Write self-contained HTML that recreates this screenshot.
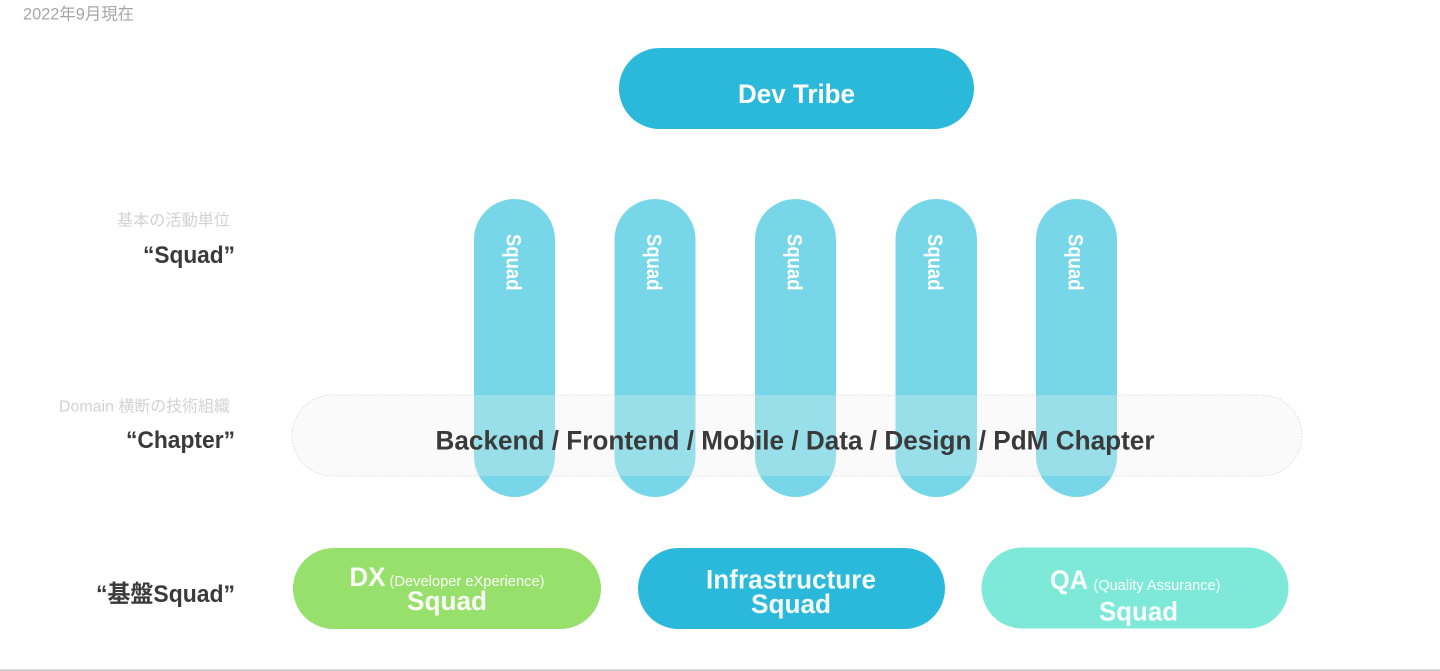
<!DOCTYPE html>
<html lang="ja">
<head>
<meta charset="utf-8">
<title>Dev Tribe</title>
<style>
html,body{margin:0;padding:0;background:#fff;width:1440px;height:671px;overflow:hidden}
svg{display:block;position:absolute;left:0;top:0}
text{font-family:"Liberation Sans","Noto Sans CJK JP",sans-serif}
.b{font-weight:700}
</style>
</head>
<body>
<svg width="1440" height="671" viewBox="0 0 1440 671" xmlns="http://www.w3.org/2000/svg">
<rect width="1440" height="671" fill="#fff"/>
<rect x="0" y="669.500" width="1440" height="1.500" fill="#c4c4c4"/>

<text x="23" y="19.500" font-size="16.500" fill="#a6a6a6" textLength="111" lengthAdjust="spacingAndGlyphs">2022年9月現在</text>

<rect x="619" y="48" width="355" height="81" rx="40.500" fill="#2ab9db"/>
<text class="b" x="796.500" y="103" font-size="27" fill="#fff" text-anchor="middle" textLength="117" lengthAdjust="spacingAndGlyphs">Dev Tribe</text>

<rect x="292" y="395" width="1010" height="81" rx="40.500" fill="#fafafa" stroke="#d6d6d6" stroke-width="0.800" stroke-dasharray="1.500 1.500"/>

<g fill="#5fd0e4" fill-opacity="0.85">
<rect x="474" y="199" width="81" height="298" rx="40.500"/>
<rect x="614.500" y="199" width="81" height="298" rx="40.500"/>
<rect x="755" y="199" width="81" height="298" rx="40.500"/>
<rect x="895.500" y="199" width="81.500" height="298" rx="40.500"/>
<rect x="1036" y="199" width="81" height="298" rx="40.500"/>
</g>
<g fill="#f4f4f0" fill-opacity="0.28">
<rect x="474" y="395" width="81" height="81"/>
<rect x="614.500" y="395" width="81" height="81"/>
<rect x="755" y="395" width="81" height="81"/>
<rect x="895.500" y="395" width="81.500" height="81"/>
<rect x="1036" y="395" width="81" height="81"/>
</g>

<g fill="#fff" font-size="21">
<text class="b" transform="translate(506.500,234) rotate(90)" textLength="56.500" lengthAdjust="spacingAndGlyphs">Squad</text>
<text class="b" transform="translate(647,234) rotate(90)" textLength="56.500" lengthAdjust="spacingAndGlyphs">Squad</text>
<text class="b" transform="translate(787.500,234) rotate(90)" textLength="56.500" lengthAdjust="spacingAndGlyphs">Squad</text>
<text class="b" transform="translate(928,234) rotate(90)" textLength="56.500" lengthAdjust="spacingAndGlyphs">Squad</text>
<text class="b" transform="translate(1068.500,234) rotate(90)" textLength="56.500" lengthAdjust="spacingAndGlyphs">Squad</text>
</g>

<text class="b" x="435.500" y="449.500" font-size="26.500" fill="#3a3a3a" textLength="719" lengthAdjust="spacingAndGlyphs">Backend / Frontend / Mobile / Data / Design / PdM Chapter</text>

<text x="117" y="225.500" font-size="16" fill="#d2d2d2" textLength="113" lengthAdjust="spacingAndGlyphs">基本の活動単位</text>
<text class="b" x="235" y="263" font-size="24" fill="#3a3a3a" text-anchor="end" textLength="92" lengthAdjust="spacingAndGlyphs">“Squad”</text>
<text x="59" y="411.500" font-size="16" fill="#d2d2d2" textLength="171" lengthAdjust="spacingAndGlyphs">Domain 横断の技術組織</text>
<text class="b" x="235" y="448" font-size="24" fill="#3a3a3a" text-anchor="end" textLength="109" lengthAdjust="spacingAndGlyphs">“Chapter”</text>
<text class="b" x="235" y="602" font-size="24" fill="#3a3a3a" text-anchor="end" textLength="139" lengthAdjust="spacingAndGlyphs">“基盤Squad”</text>

<rect x="293" y="548" width="308" height="81" rx="40.500" ry="40.500" fill="#97e06b"/>
<text class="b" x="349.500" y="586" font-size="27" fill="#fff" fill-opacity="0.95" textLength="36" lengthAdjust="spacingAndGlyphs">DX</text>
<text x="389.500" y="586" font-size="15" fill="#fff" fill-opacity="0.95" textLength="155" lengthAdjust="spacingAndGlyphs">(Developer eXperience)</text>
<text class="b" x="447" y="610" font-size="27" fill="#fff" fill-opacity="0.95" text-anchor="middle" textLength="80" lengthAdjust="spacingAndGlyphs">Squad</text>

<rect x="638" y="548" width="307" height="81" rx="40.500" fill="#2ab9db"/>
<text class="b" x="791" y="588.500" font-size="27" fill="#fff" fill-opacity="0.95" text-anchor="middle" textLength="170" lengthAdjust="spacingAndGlyphs">Infrastructure</text>
<text class="b" x="791" y="613" font-size="27" fill="#fff" fill-opacity="0.95" text-anchor="middle" textLength="80" lengthAdjust="spacingAndGlyphs">Squad</text>

<rect x="981.500" y="547.500" width="307" height="81" rx="40.500" fill="#7ee9d8"/>
<text class="b" x="1050" y="589" font-size="27" fill="#fff" fill-opacity="0.95" textLength="38" lengthAdjust="spacingAndGlyphs">QA</text>
<text x="1093.500" y="590" font-size="15" fill="#fff" fill-opacity="0.95" textLength="127" lengthAdjust="spacingAndGlyphs">(Quality Assurance)</text>
<text class="b" x="1138.500" y="620.500" font-size="27" fill="#fff" fill-opacity="0.95" text-anchor="middle" textLength="79" lengthAdjust="spacingAndGlyphs">Squad</text>
</svg>
</body>
</html>
